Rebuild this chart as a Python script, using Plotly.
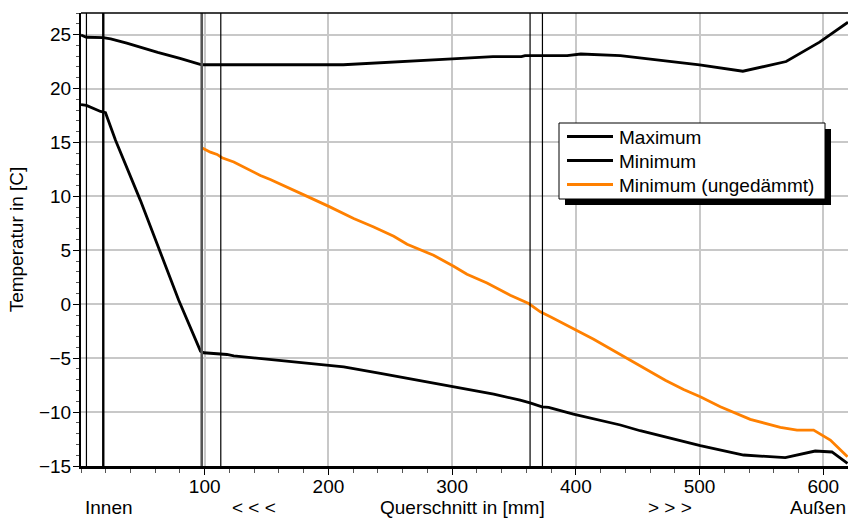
import plotly.graph_objects as go

# ---- data ----
max_x = [0, 4.4, 18, 24, 37, 48, 62, 80, 97.6, 113, 212, 300, 333, 356, 359, 393, 404, 436, 460, 500, 535, 570, 597, 620]
max_y = [24.95, 24.75, 24.72, 24.6, 24.2, 23.8, 23.35, 22.8, 22.2, 22.2, 22.2, 22.75, 22.95, 22.95, 23.05, 23.05, 23.2, 23.05, 22.75, 22.2, 21.6, 22.5, 24.3, 26.15]

min_x = [0, 4.4, 15.8, 19.8, 27.9, 48, 79, 96.6, 99.2, 107.3, 112.7, 118, 123.5, 137, 200.3, 212.4, 242, 274.3, 300, 333.6, 355, 363, 372.7, 378, 398, 436, 452, 500.6, 535.6, 569.3, 593.5, 607, 619.6]
min_y = [18.5, 18.43, 17.87, 17.75, 15.2, 9.63, 0.37, -4.35, -4.5, -4.57, -4.6, -4.66, -4.79, -4.94, -5.65, -5.8, -6.42, -7.1, -7.66, -8.33, -8.9, -9.14, -9.51, -9.57, -10.19, -11.2, -11.73, -13.12, -13.98, -14.23, -13.61, -13.7, -14.75]

unins_x = [97.6, 104.6, 110, 114, 123.5, 131.6, 145, 153, 163.9, 182.8, 200.3, 220.4, 236.6, 252.8, 263.6, 285, 301.2, 312, 328.2, 347, 361.9, 365.9, 371.3, 379.4, 392.9, 414.4, 472.3, 487.1, 500.6, 516.8, 541, 565.3, 578.8, 592.2, 605.7, 619.6]
unins_y = [14.51, 14.1, 13.89, 13.58, 13.18, 12.71, 11.94, 11.57, 11.02, 10.0, 9.07, 7.94, 7.16, 6.3, 5.56, 4.54, 3.52, 2.78, 1.97, 0.83, 0.06, -0.25, -0.71, -1.17, -1.94, -3.24, -7.04, -7.9, -8.58, -9.51, -10.68, -11.42, -11.67, -11.67, -12.59, -14.14]

series_names = ["Maximum", "Minimum", "Minimum (ungedämmt)"]
series_colors = ["black", "black", "#ff8000"]

layer_bounds = [4.4, 18, 97.6, 113, 363, 373]

x_tick_vals = [100, 200, 300, 400, 500, 600]
y_tick_vals = [-15, -10, -5, 0, 5, 10, 15, 20, 25]

bottom_labels = ["Innen", "< < <", "Querschnitt in [mm]", "> > >", "Außen"]
bottom_label_x = [23, 140, 308, 476, 620]

FONT = "Liberation Sans, Arial, sans-serif"
FS = 19

# plot-area pixel geometry
L, T, R, B = 81, 13, 848, 466
def px(xp):
    return (xp - L) / (R - L)
def py(yp):
    return (B - yp) / (B - T)

fig = go.Figure()
for xs, ys, nm, col in zip([max_x, min_x, unins_x], [max_y, min_y, unins_y], series_names, series_colors):
    fig.add_trace(go.Scatter(x=xs, y=ys, mode="lines", name=nm,
                             line=dict(color=col, width=2.8), showlegend=False))

# layer boundary lines
bound_styles = [("black", 1.2), ("black", 2.4), ("#555555", 2.6), ("black", 1.2), ("black", 1.2), ("black", 1.2)]
for xb, (col, w) in zip(layer_bounds, bound_styles):
    fig.add_shape(type="line", xref="x", yref="paper", x0=xb, x1=xb, y0=0, y1=1,
                  line=dict(color=col, width=w), layer="above")

# top frame line
fig.add_shape(type="line", xref="paper", yref="paper", x0=0, x1=1, y0=1, y1=1,
              line=dict(color="black", width=1.5))

# legend (box with drop shadow)
fig.add_shape(type="rect", xref="paper", yref="paper",
              x0=px(565), x1=px(831), y0=py(205), y1=py(129),
              fillcolor="black", line=dict(width=0), layer="above")
fig.add_shape(type="rect", xref="paper", yref="paper",
              x0=px(559), x1=px(825), y0=py(199), y1=py(123),
              fillcolor="white", line=dict(color="black", width=1), layer="above")
row_y = [136.5, 160.5, 184.5]
for nm, col, ry in zip(series_names, series_colors, row_y):
    fig.add_shape(type="line", xref="paper", yref="paper",
                  x0=px(567), x1=px(613), y0=py(ry), y1=py(ry),
                  line=dict(color=col, width=2.8), layer="above")
    fig.add_annotation(text=nm, xref="paper", yref="paper", x=px(617), y=py(ry + 1),
                       xanchor="left", yanchor="middle", showarrow=False,
                       font=dict(family=FONT, size=FS, color="black"))

for txt, xv in zip(bottom_labels, bottom_label_x):
    fig.add_annotation(text=txt, x=xv, xref="x", y=0, yref="paper",
                       xanchor="right" if txt == "Außen" else "center",
                       yanchor="middle", yshift=-41, showarrow=False,
                       font=dict(family=FONT, size=FS, color="black"))

fig.update_layout(
    width=848, height=527,
    margin=dict(l=L, r=0, t=T, b=527 - B, pad=0),
    paper_bgcolor="white", plot_bgcolor="white",
    font=dict(family=FONT, size=FS, color="black"),
    showlegend=False,
    xaxis=dict(range=[0, 620], tickvals=x_tick_vals, ticks="outside", ticklen=6,
               tickcolor="black", tickwidth=1,
               showgrid=True, gridcolor="#c8c8c8", gridwidth=1.5,
               showline=True, linecolor="black", linewidth=3,
               zeroline=False, ticklabelstandoff=-5,
               minor=dict(dtick=20, tick0=0, ticks="outside", ticklen=4,
                          tickcolor="#555555", showgrid=False)),
    yaxis=dict(range=[-15, 27], tickvals=y_tick_vals, ticks="outside", ticklen=6,
               tickcolor="black", tickwidth=1,
               showgrid=True, gridcolor="#c8c8c8", gridwidth=1.5,
               showline=True, linecolor="black", linewidth=2,
               zeroline=False, ticklabelstandoff=-2,
               minor=dict(dtick=1, tick0=0, ticks="outside", ticklen=3,
                          tickcolor="#555555", showgrid=False),
               title=dict(text="Temperatur in [C]", standoff=10,
                          font=dict(family=FONT, size=FS))),
)

fig.write_html("out.html", config={"displayModeBar": False},
               post_script="document.body.style.margin='0';document.body.style.overflow='hidden';")
